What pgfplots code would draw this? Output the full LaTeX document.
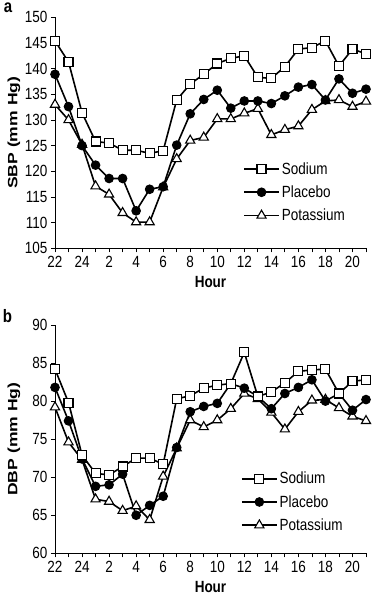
\documentclass[border=0pt]{standalone}
\usepackage{pgfplots}
\pgfplotsset{compat=1.18}
\usepackage{pgfplotstable}
\usepackage{fontspec}
\setmainfont{Liberation Sans}

\pgfplotstableread{
x sod pla pot
0  145.4 138.9 133.0
1  141.3 132.6 130.0
2  131.4 125.0 125.2
3  125.8 121.2 117.1
4  125.5 118.6 115.5
5  124.1 118.6 111.9
6  124.1 112.3 110.1
7  123.5 116.5 110.1
8  124.0 117.0 116.9
9  133.9 125.1 122.4
10 137.0 131.2 126.0
11 138.9 134.0 126.6
12 141.0 135.8 130.2
13 142.0 132.3 130.2
14 142.5 133.7 131.3
15 138.3 133.7 132.2
16 138.1 133.2 127.1
17 140.4 134.7 128.1
18 143.8 136.4 128.8
19 144.1 136.9 132.0
20 145.4 133.9 133.7
21 140.5 138.0 133.9
22 143.8 135.2 132.6
23 142.9 136.0 133.6
}\sbp

\pgfplotstableread{
x sod pla pot
0  84.2 81.8 79.2
1  79.8 77.4 74.6
2  72.9 72.4 72.3
3  70.5 68.8 67.1
4  70.3 69.0 66.8
5  71.4 70.4 65.6
6  72.5 65.0 66.2
7  72.5 66.3 64.4
8  71.7 67.5 70.1
9  80.3 73.9 73.8
10 80.7 78.6 77.5
11 81.7 79.3 76.6
12 82.1 79.7 77.5
13 82.3 82.3 79.0
14 86.4 81.7 81.0
15 80.6 80.6 80.3
16 81.2 79.0 78.5
17 82.4 81.0 76.3
18 83.9 81.8 78.6
19 84.1 82.8 80.1
20 84.2 80.0 80.2
21 81.0 81.0 79.1
22 82.6 78.8 78.0
23 82.8 80.2 77.4
}\dbp

\newcommand{\tall}[1]{\scalebox{1}[1.2]{#1}}

\pgfplotsset{
 bp/.style={
  scale only axis, width=311pt,
  xmin=0, xmax=23,
  axis x line*=bottom, axis y line*=left,
  axis line style={line width=0.8pt},
  tick align=outside, major tick length=4pt, minor tick length=4pt,
  every tick/.style={line width=0.8pt, black},
  xtick={0,2,...,22}, xticklabels={22,24,2,4,6,8,10,12,14,16,18,20},
  minor xtick={1,3,...,23},
  ticklabel style={font=\fontsize{13.5}{16}\selectfont, yscale=1.2},
  /pgf/number format/assume math mode=true,
  label style={font=\fontsize{13.5}{16}\selectfont\bfseries},
  xlabel={Hour},
  xlabel style={yscale=1.2},
  ylabel style={xscale=1.3},
  legend style={draw=none, fill=none, font=\fontsize{13.5}{16}\selectfont, anchor=north west, row sep=6pt},
  legend cell align=left,
  reverse legend,
  legend image code/.code={\draw[mark repeat=2,mark phase=2] plot coordinates {(0pt,0pt) (17.5pt,0pt) (35pt,0pt)};},
 },
 sod/.style={black, line width=1.6pt, mark=square*, mark size=4.5pt, mark options={fill=white, line width=1.1pt}},
 pla/.style={black, line width=1.6pt, mark=*, mark size=4.3pt, mark options={fill=black, line width=1pt}},
 pot/.style={black, line width=1.6pt, mark=triangle*, mark size=5.3pt, mark options={fill=white, line width=1.1pt}},
}

\begin{document}
\begin{tikzpicture}
\useasboundingbox (0,0) rectangle (372pt,600pt);

\begin{axis}[bp, height=231pt, at={(55pt,351.7pt)}, anchor=south west,
  ymin=105, ymax=150, ytick={105,110,...,150},
  ylabel={SBP (mm Hg)},
  ylabel style={at={(axis description cs:-0.132,0.5)}, anchor=center},
  xlabel style={at={(axis description cs:0.5,-0.1446)}, anchor=center},
  legend style={at={(0.595,0.390)}}]
\addplot[pot] table[x=x,y=pot] {\sbp};
\addplot[pla] table[x=x,y=pla] {\sbp};
\addplot[sod] table[x=x,y=sod] {\sbp};
\legend{\tall{Potassium},\tall{Placebo},\tall{Sodium}}
\end{axis}

\begin{axis}[bp, height=228.3pt, at={(55pt,46.7pt)}, anchor=south west,
  ymin=60, ymax=90, ytick={60,65,...,90},
  ylabel={DBP (mm Hg)},
  ylabel style={at={(axis description cs:-0.132,0.5)}, anchor=center},
  xlabel style={at={(axis description cs:0.5,-0.1476)}, anchor=center},
  legend style={at={(0.588,0.374)}}]
\addplot[pot] table[x=x,y=pot] {\dbp};
\addplot[pla] table[x=x,y=pla] {\dbp};
\addplot[sod] table[x=x,y=sod] {\dbp};
\legend{\tall{Potassium},\tall{Placebo},\tall{Sodium}}
\end{axis}

\node[font=\fontsize{15}{15}\selectfont\bfseries, yscale=1.2, inner sep=1pt] at (8pt,592pt) {a};
\node[font=\fontsize{15}{15}\selectfont\bfseries, yscale=1.2, inner sep=1pt] at (7.5pt,284pt) {b};
\end{tikzpicture}
\end{document}
